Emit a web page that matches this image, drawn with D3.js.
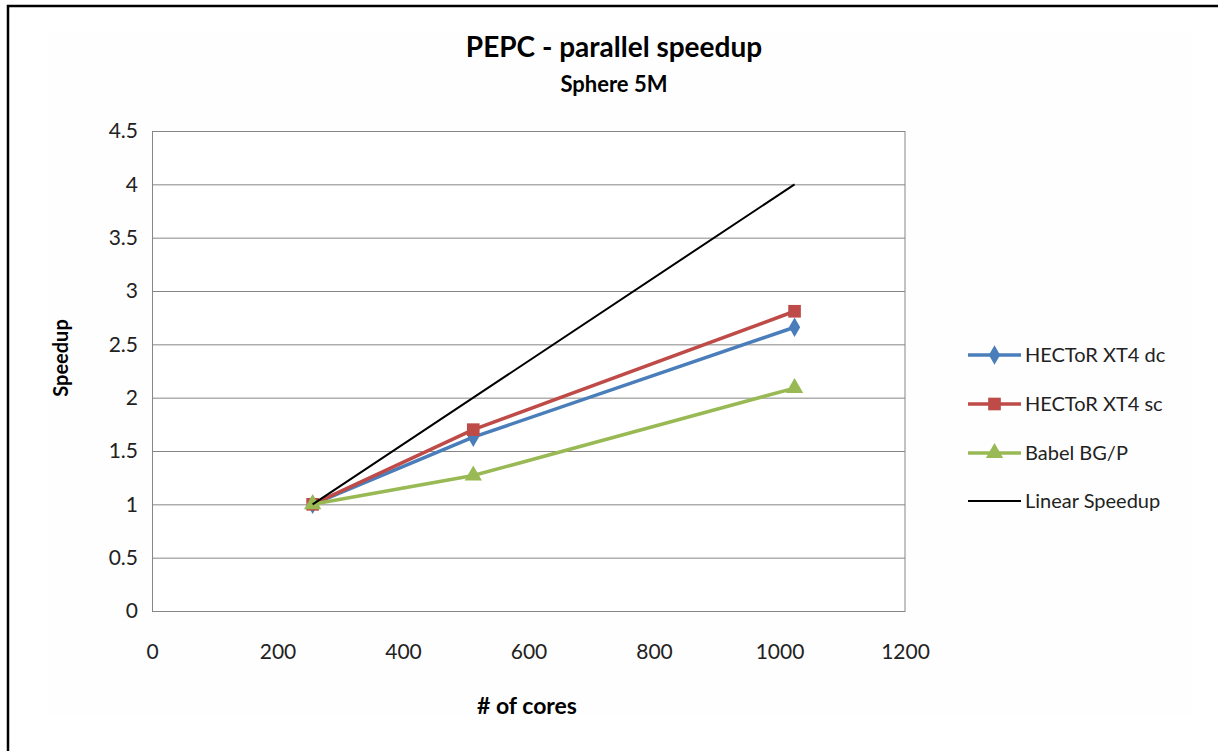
<!DOCTYPE html>
<html>
<head>
<meta charset="utf-8">
<script src="https://cdn.jsdelivr.net/npm/d3@7"></script>
<style>
  html, body { margin: 0; padding: 0; background: #ffffff; }
  svg { display: block; }
  text { font-family: Lato, "Open Sans", sans-serif; }
</style>
</head>
<body>
<svg id="chart" width="1218" height="751"></svg>
<script>
// Core counts used in the runs
const cores = [256, 512, 1024];

// Speedup relative to 256 cores
const hectorDc = [1, 1.63, 2.66];
const hectorSc = [1, 1.70, 2.81];
const babelBgp = [1, 1.27, 2.09];
const linearSpeedup = [1, 2, 4];

const seriesNames = ["HECToR XT4 dc", "HECToR XT4 sc", "Babel BG/P", "Linear Speedup"];
const yTicks = [0, 0.5, 1, 1.5, 2, 2.5, 3, 3.5, 4, 4.5];
const xTicks = [0, 200, 400, 600, 800, 1000, 1200];

const series = [
  { name: seriesNames[0], values: hectorDc, color: "#4a7ebb", width: 3.5, marker: "diamond" },
  { name: seriesNames[1], values: hectorSc, color: "#be4b48", width: 3.5, marker: "square" },
  { name: seriesNames[2], values: babelBgp, color: "#98b954", width: 3.5, marker: "triangle" },
  { name: seriesNames[3], values: linearSpeedup, color: "#000000", width: 2, marker: null }
];

const svg = d3.select("#chart");

// chart area background and frame
svg.append("rect").attr("x", 47).attr("y", 33).attr("width", 1146).attr("height", 681)
  .attr("fill", "#fefefe");
svg.append("path").attr("d", "M8,751 V6 H1218").attr("fill", "none")
  .attr("stroke", "#000").attr("stroke-width", 2.5);

const plot = { left: 152, right: 905, top: 131, bottom: 611 };

const x = d3.scaleLinear().domain([0, 1200]).range([plot.left, plot.right]);
const y = d3.scaleLinear().domain([0, 4.5]).range([plot.bottom, plot.top]);

// plot background
svg.append("rect").attr("x", plot.left).attr("y", plot.top)
  .attr("width", plot.right - plot.left).attr("height", plot.bottom - plot.top)
  .attr("fill", "#ffffff");

// horizontal gridlines
const yAxis = d3.axisLeft(y).tickValues(yTicks).tickFormat(d3.format("")).tickSize(-(plot.right - plot.left)).tickPadding(14);
const gy = svg.append("g").attr("transform", `translate(${plot.left},0)`).call(yAxis);
gy.select(".domain").attr("stroke", "#868686");
gy.selectAll(".tick line").attr("stroke", "#868686").attr("stroke-width", 1);
gy.selectAll(".tick text").attr("fill", "#222").attr("font-size", 21);

const xAxis = d3.axisBottom(x).tickValues(xTicks).tickSize(0).tickPadding(33).tickFormat(d3.format(""));
const gx = svg.append("g").attr("transform", `translate(0,${plot.bottom})`).call(xAxis);
gx.select(".domain").attr("stroke", "#868686");
gx.selectAll(".tick text").attr("fill", "#222").attr("font-size", 21);

// right edge of plot frame
svg.append("line").attr("x1", plot.right).attr("x2", plot.right)
  .attr("y1", plot.top).attr("y2", plot.bottom).attr("stroke", "#868686");

const line = d3.line().x((d, i) => x(cores[i])).y(d => y(d));

function markerPath(type, size) {
  if (type === "diamond") return d3.symbol(d3.symbolDiamond, size)();
  if (type === "square") return d3.symbol(d3.symbolSquare, size)();
  if (type === "triangle") return d3.symbol(d3.symbolTriangle, size)();
  return null;
}
const markerSize = { diamond: 110, square: 160, triangle: 130 };

series.forEach(s => {
  svg.append("path").datum(s.values).attr("d", line)
    .attr("fill", "none").attr("stroke", s.color).attr("stroke-width", s.width)
    .attr("stroke-linejoin", "round");
  if (s.marker) {
    svg.selectAll(null).data(s.values).enter().append("path")
      .attr("d", markerPath(s.marker, markerSize[s.marker]))
      .attr("transform", (d, i) => `translate(${x(cores[i])},${y(d)})`)
      .attr("fill", s.color);
  }
});

// legend
const legend = svg.append("g");
const legendY = [355, 404, 453, 501];
series.forEach((s, i) => {
  const ly = legendY[i];
  legend.append("line").attr("x1", 968).attr("x2", 1021).attr("y1", ly).attr("y2", ly)
    .attr("stroke", s.color).attr("stroke-width", s.width);
  if (s.marker) {
    legend.append("path").attr("d", markerPath(s.marker, markerSize[s.marker]))
      .attr("transform", `translate(994.5,${ly})`).attr("fill", s.color);
  }
  legend.append("text").attr("x", 1025).attr("y", ly).attr("dy", "0.35em")
    .attr("font-size", 20).attr("fill", "#222").text(s.name);
});

// titles
svg.append("text").attr("x", 614).attr("y", 57).attr("text-anchor", "middle")
  .attr("font-size", 28).attr("font-weight", "bold").attr("fill", "#000").text("PEPC - parallel speedup");
svg.append("text").attr("x", 614).attr("y", 92).attr("text-anchor", "middle")
  .attr("font-size", 22).attr("font-weight", "bold").attr("fill", "#000").text("Sphere 5M");
svg.append("text").attr("transform", "translate(68,358) rotate(-90)").attr("text-anchor", "middle")
  .attr("font-size", 20).attr("font-weight", "bold").attr("fill", "#000").text("Speedup");
svg.append("text").attr("x", 527).attr("y", 714).attr("text-anchor", "middle")
  .attr("font-size", 23).attr("font-weight", "bold").attr("fill", "#000").text("# of cores");
</script>
</body>
</html>
